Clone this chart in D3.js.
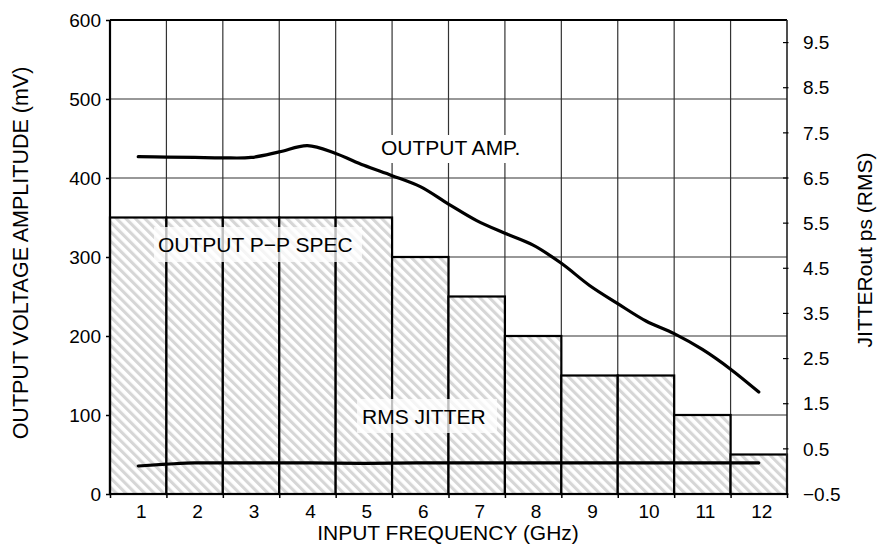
<!DOCTYPE html>
<html>
<head>
<meta charset="utf-8">
<script src="https://cdn.jsdelivr.net/npm/d3@7/dist/d3.min.js"></script>
<style>
  html, body { margin: 0; padding: 0; background: #fff; }
  svg { display: block; font-family: "Liberation Sans", Arial, Helvetica, sans-serif; }
</style>
</head>
<body>
<svg id="chart" width="878" height="545"></svg>
<script>
// ---------- data ----------
const bands = [1, 2, 3, 4, 5, 6, 7, 8, 9, 10, 11, 12];
const specValues = [350, 350, 350, 350, 350, 300, 250, 200, 150, 150, 100, 50]; // mV
const ampFreq = [1, 1.5, 2, 2.5, 3, 3.5, 4, 4.5, 5, 5.5, 6, 6.5, 7, 7.5, 8, 8.5, 9, 9.5, 10, 10.5, 11, 11.5, 12];
const ampValues = [427, 426.5, 426, 425.5, 426, 433, 441, 431, 416, 403, 389, 367, 346, 330, 315, 292, 264, 241, 219, 203, 183, 158, 129]; // mV
const jitterFreq = [1, 1.5, 2, 3, 4, 5, 6, 7, 8, 9, 10, 11, 12];
const jitterValues = [0.12, 0.16, 0.19, 0.19, 0.19, 0.18, 0.19, 0.19, 0.19, 0.19, 0.19, 0.19, 0.19]; // ps
const leftTicks = [0, 100, 200, 300, 400, 500, 600];
const rightTicks = [-0.5, 0.5, 1.5, 2.5, 3.5, 4.5, 5.5, 6.5, 7.5, 8.5, 9.5];
const labels = {
  left: "OUTPUT VOLTAGE AMPLITUDE (mV)",
  right: "JITTERout ps (RMS)",
  bottom: "INPUT FREQUENCY (GHz)",
  amp: "OUTPUT AMP.",
  spec: "OUTPUT P\u2212P SPEC",
  jitter: "RMS JITTER"
};

// ---------- layout ----------
const L = 110, R = 787, T = 20, B = 494;
const svg = d3.select("#chart");

const xBand = d3.scaleBand().domain(bands).range([L, R]).padding(0);
const xLin = d3.scaleLinear().domain([0.5, 12.5]).range([L, R]);
const yL = d3.scaleLinear().domain([0, 600]).range([B, T]);
const yR = d3.scaleLinear().domain([-0.5, 10]).range([B, T]);

// hatch pattern
const defs = svg.append("defs");
const pat = defs.append("pattern")
  .attr("id", "hatch")
  .attr("patternUnits", "userSpaceOnUse")
  .attr("width", 6.7).attr("height", 6.7)
  .attr("patternTransform", "rotate(-45)");
pat.append("rect").attr("width", 6.7).attr("height", 6.7).attr("fill", "#fff");
pat.append("rect").attr("x", 0).attr("width", 3.1).attr("height", 6.7).attr("fill", "#d6d6d6");

// grid
const grid = svg.append("g");
grid.selectAll("line.h").data(leftTicks.filter(d => d > 0 && d < 600)).join("line")
  .attr("x1", L).attr("x2", R)
  .attr("y1", d => yL(d)).attr("y2", d => yL(d))
  .attr("stroke", "#333").attr("stroke-width", 1.2);
grid.selectAll("line.v").data(bands.slice(1)).join("line")
  .attr("x1", d => xBand(d)).attr("x2", d => xBand(d))
  .attr("y1", T).attr("y2", B)
  .attr("stroke", "#333").attr("stroke-width", 1.2);

// bars
svg.append("g").selectAll("rect").data(bands).join("rect")
  .attr("x", d => xBand(d))
  .attr("width", xBand.bandwidth())
  .attr("y", (d, i) => yL(specValues[i]))
  .attr("height", (d, i) => B - yL(specValues[i]))
  .attr("fill", "url(#hatch)")
  .attr("stroke", "#000").attr("stroke-width", 2.2);

// frame
svg.append("line").attr("x1", L).attr("x2", R).attr("y1", T).attr("y2", T)
  .attr("stroke", "#000").attr("stroke-width", 2.2);
svg.append("line").attr("x1", R).attr("x2", R).attr("y1", T).attr("y2", B)
  .attr("stroke", "#222").attr("stroke-width", 1.6);

// lines
const lineAmp = d3.line().x((d, i) => xLin(ampFreq[i])).y(d => yL(d)).curve(d3.curveCatmullRom.alpha(0.5));
svg.append("path").datum(ampValues).attr("d", lineAmp)
  .attr("fill", "none").attr("stroke", "#000").attr("stroke-width", 3.2).attr("stroke-linecap", "round");
const lineJit = d3.line().x((d, i) => xLin(jitterFreq[i])).y(d => yR(d)).curve(d3.curveMonotoneX);
svg.append("path").datum(jitterValues).attr("d", lineJit)
  .attr("fill", "none").attr("stroke", "#000").attr("stroke-width", 3.2).attr("stroke-linecap", "round");

// left axis
const axL = svg.append("g").attr("transform", `translate(${L},0)`)
  .call(d3.axisLeft(yL).tickValues(leftTicks).tickSize(4).tickPadding(5).tickFormat(d3.format("d")));
axL.select(".domain").attr("stroke-width", 2.2).attr("d", `M0,${T}V${B}`);
axL.selectAll(".tick line").attr("stroke-width", 1.5);
axL.selectAll("text").attr("font-size", 19).attr("font-family", null).attr("fill", "#000");

// right axis
const axR = svg.append("g").attr("transform", `translate(${R},0)`);
axR.selectAll("line").data(rightTicks).join("line")
  .attr("x1", -4).attr("x2", 1.5)
  .attr("y1", d => yR(d)).attr("y2", d => yR(d))
  .attr("stroke", "#000").attr("stroke-width", 1.2);
axR.selectAll("text").data(rightTicks).join("text")
  .attr("x", 16).attr("y", d => yR(d)).attr("dy", "0.35em")
  .attr("font-size", 19).text(d => d3.format(".1f")(d));

// bottom axis
const axB = svg.append("g").attr("transform", `translate(0,${B})`)
  .call(d3.axisBottom(xLin).tickValues(d3.range(0.5, 13, 1)).tickSize(4).tickFormat(""));
axB.select(".domain").attr("stroke-width", 2.2).attr("d", `M${L},0H${R}`);
axB.selectAll(".tick line").attr("stroke-width", 1.5);
svg.append("g").selectAll("text").data(bands).join("text")
  .attr("x", d => xBand(d) + xBand.bandwidth() / 2 + 3)
  .attr("y", 518).attr("text-anchor", "middle")
  .attr("font-size", 19).text(d => d);

// axis titles
svg.append("text").attr("transform", `translate(28,253) rotate(-90)`)
  .attr("text-anchor", "middle").attr("font-size", 21.5).text(labels.left);
svg.append("text").attr("transform", `translate(872,250) rotate(-90)`)
  .attr("text-anchor", "middle").attr("font-size", 21).text(labels.right);
svg.append("text").attr("x", 448).attr("y", 540)
  .attr("text-anchor", "middle").attr("font-size", 21).text(labels.bottom);

// in-plot labels with backgrounds
function boxLabel(text, x, y, bx, by, bw, bh, op) {
  svg.append("rect").attr("x", bx).attr("y", by).attr("width", bw).attr("height", bh)
    .attr("fill", "#fff").attr("opacity", op);
  svg.append("text").attr("x", x).attr("y", y).attr("font-size", 21).text(text);
}
boxLabel(labels.amp, 381, 155, 377, 135, 150, 28, 1);
boxLabel(labels.spec, 158, 252, 154, 227, 208, 35, 0.75);
boxLabel(labels.jitter, 362, 424, 357, 399, 140, 34, 0.75);
</script>
</body>
</html>
